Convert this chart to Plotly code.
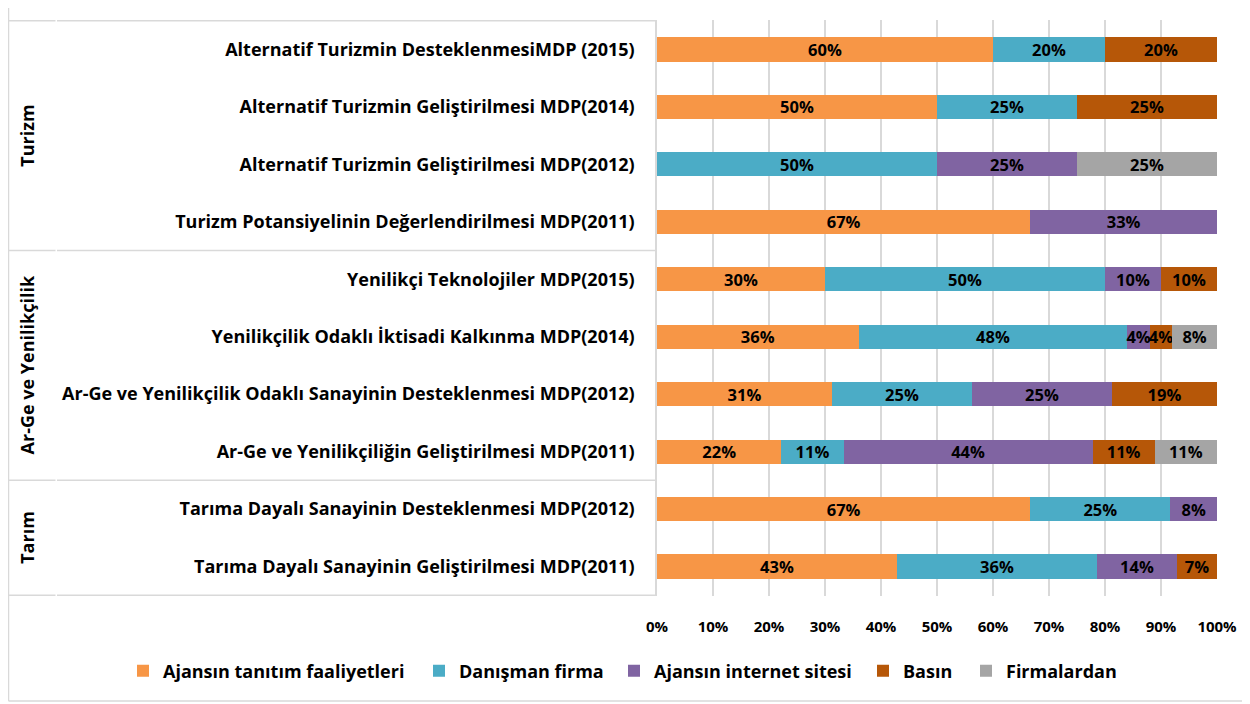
import plotly.graph_objects as go

categories = [
    "Alternatif Turizmin DesteklenmesiMDP (2015)",
    "Alternatif Turizmin Geliştirilmesi MDP(2014)",
    "Alternatif Turizmin Geliştirilmesi MDP(2012)",
    "Turizm Potansiyelinin Değerlendirilmesi MDP(2011)",
    "Yenilikçi Teknolojiler MDP(2015)",
    "Yenilikçilik Odaklı İktisadi Kalkınma MDP(2014)",
    "Ar-Ge ve Yenilikçilik Odaklı Sanayinin Desteklenmesi MDP(2012)",
    "Ar-Ge ve Yenilikçiliğin Geliştirilmesi MDP(2011)",
    "Tarıma Dayalı Sanayinin Desteklenmesi MDP(2012)",
    "Tarıma Dayalı Sanayinin Geliştirilmesi MDP(2011)",
]
groups = ["Turizm", "Ar-Ge ve Yenilikçilik", "Tarım"]
group_sizes = [4, 4, 2]

series_names = ["Ajansın tanıtım faaliyetleri", "Danışman firma", "Ajansın internet sitesi", "Basın", "Firmalardan"]
ajans_tanitim = [60, 50, None, 66.67, 30, 36, 31.25, 22.22, 66.67, 42.86]
danisman = [20, 25, 50, None, 50, 48, 25, 11.11, 25, 35.71]
internet = [None, None, 25, 33.33, 10, 4, 25, 44.44, 8.33, 14.29]
basin = [20, 25, None, None, 10, 4, 18.75, 11.11, None, 7.14]
firmalardan = [None, None, 25, None, None, 8, None, 11.11, None, None]
series_values = [ajans_tanitim, danisman, internet, basin, firmalardan]
colors = ["#F79646", "#4BACC6", "#8064A2", "#B65708", "#A5A5A5"]

tick_vals = list(range(0, 101, 10))
tick_text = [f"{v}%" for v in tick_vals]

FONT = "Open Sans"
OFF = 8  # page body margin
W, H = 1250 - OFF, 704 - OFF
L, R, T, B = 657 - OFF, 1217 - OFF, 20 - OFF, 596 - OFF
pw, ph = R - L, B - T

def px2x(px):
    return (px - OFF - L) / pw

def px2y(py):
    return (B - (py - OFF)) / ph

legend_ids = ["legend", "legend2", "legend3", "legend4", "legend5"]
legend_text_starts = [164, 460, 655, 904, 1007]

fig = go.Figure()
for name, vals, col, lid in zip(series_names, series_values, colors, legend_ids):
    fig.add_trace(go.Bar(
        y=categories, x=vals, name=name, orientation="h", legend=lid, showlegend=True,
        marker=dict(color=col, line=dict(width=0)),
        texttemplate="%{x:.0f}%", textposition="inside", insidetextanchor="middle",
        textangle=0, textfont=dict(family=FONT, size=16.5, color="black", weight="bold"),
        cliponaxis=False,
    ))

shapes = []
line_style = dict(color="#D9D9D9", width=1.5)
bounds = [-0.5]
acc = -0.5
for s in group_sizes:
    acc += s
    bounds.append(acc)
for b in bounds:
    shapes.append(dict(type="line", xref="paper", yref="y", x0=px2x(9), x1=px2x(55.5), y0=b, y1=b, line=line_style, layer="below"))
    shapes.append(dict(type="line", xref="paper", yref="y", x0=px2x(57), x1=0, y0=b, y1=b, line=line_style, layer="below"))
shapes.append(dict(type="line", xref="paper", yref="paper", x0=px2x(8.5), x1=px2x(8.5), y0=px2y(0), y1=px2y(701), line=line_style))
shapes.append(dict(type="line", xref="paper", yref="paper", x0=px2x(8.5), x1=px2x(1250), y0=px2y(701), y1=px2y(701), line=line_style))

annotations = []
start = 0
for g, s in zip(groups, group_sizes):
    mid = start + (s - 1) / 2
    annotations.append(dict(text=g, xref="paper", yref="y", x=px2x(27), y=mid, textangle=-90,
                            showarrow=False, xanchor="center", yanchor="middle",
                            font=dict(family=FONT, size=18, color="black", weight="bold")))
    start += s

legends = {}
for lid, ts in zip(legend_ids, legend_text_starts):
    legends[lid] = dict(orientation="h", xref="paper", yref="paper",
                        x=px2x(ts - 41), y=px2y(671), xanchor="left", yanchor="middle",
                        font=dict(family=FONT, size=18, color="black", weight="bold"),
                        itemwidth=30, bgcolor="rgba(0,0,0,0)")

fig.update_layout(
    barmode="stack", bargap=0.58,
    width=W, height=H, showlegend=True,
    margin=dict(l=L, r=W - R, t=T, b=H - B, pad=0, autoexpand=False),
    paper_bgcolor="white", plot_bgcolor="white",
    font=dict(family=FONT, size=15, color="black"),
    uniformtext=dict(minsize=16.5, mode="show"),
    shapes=shapes, annotations=annotations,
    xaxis=dict(range=[0, 100], tickvals=tick_vals, ticktext=tick_text, showgrid=True,
               gridcolor="#D9D9D9", gridwidth=1.5, zeroline=False, showline=False,
               ticks="outside", ticklen=0, ticklabelstandoff=17,
               tickfont=dict(family=FONT, size=15, color="black", weight="bold")),
    yaxis=dict(categoryorder="array", categoryarray=categories, autorange="reversed",
               showline=True, linecolor="#D9D9D9", linewidth=1.5, showgrid=False,
               ticks="outside", ticklen=0, ticklabelstandoff=17,
               tickfont=dict(family=FONT, size=18, color="black", weight="bold")),
    **legends,
)
fig.write_html("out.html")
